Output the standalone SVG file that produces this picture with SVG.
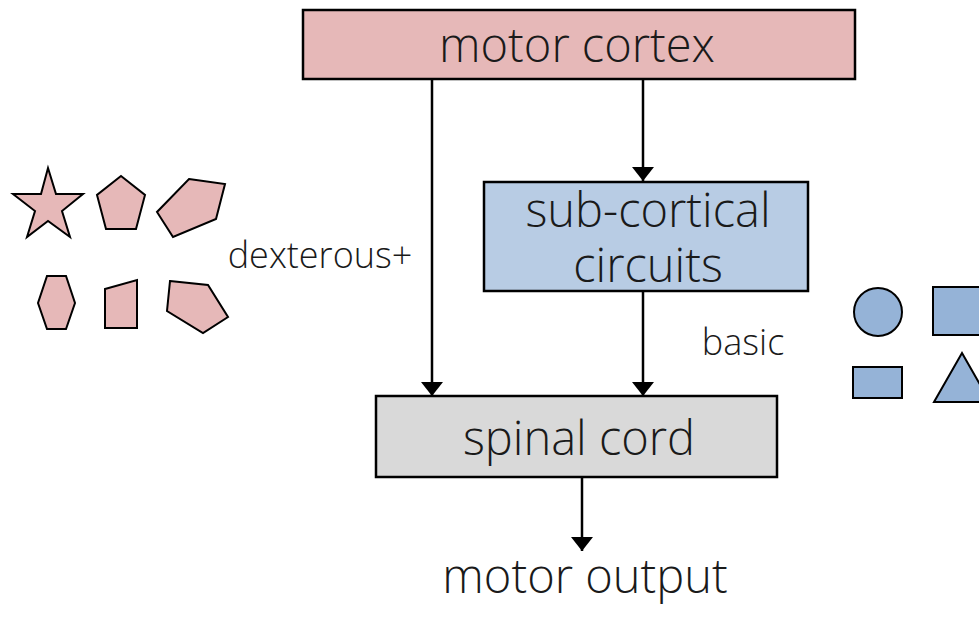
<svg xmlns="http://www.w3.org/2000/svg" width="979" height="617" viewBox="0 0 979 617">
<defs>
<style>
.box{stroke:#000;stroke-width:2.5}
.t{font-family:"Open Sans","Noto Sans","DejaVu Sans",sans-serif;font-weight:300;fill:#1a1a1a;text-anchor:middle}
.big{font-size:47px}
.small{font-size:36px}
.red{fill:#e6b8b8;stroke:#000;stroke-width:2;stroke-linejoin:miter}
.blue{fill:#95b3d7;stroke:#000;stroke-width:2}
.ln{stroke:#000;stroke-width:2.5;fill:none}
</style>
<marker id="ah" viewBox="0 0 14 22" refX="14" refY="11" markerWidth="14" markerHeight="22" markerUnits="userSpaceOnUse" orient="auto">
<path d="M0,0 L14,11 L0,22 z" fill="#000"/>
</marker>
</defs>
<rect width="979" height="617" fill="#fff"/>
<g id="connectors">
<line class="ln" x1="432" y1="80" x2="432" y2="396" marker-end="url(#ah)"/>
<line class="ln" x1="643" y1="80" x2="643" y2="181" marker-end="url(#ah)"/>
<line class="ln" x1="643" y1="292" x2="643" y2="396" marker-end="url(#ah)"/>
<line class="ln" x1="582" y1="478" x2="582" y2="551" marker-end="url(#ah)"/>
<text class="t small" x="320" y="268">dexterous+</text>
<text class="t small" x="743" y="355">basic</text>
</g>
<g id="motor-cortex">
<rect class="box" x="303" y="10" width="552" height="69" fill="#e6b8b8"/>
<text class="t big" x="577" y="62">motor cortex</text>
</g>
<g id="sub-cortical">
<rect class="box" x="484" y="182" width="324" height="109" fill="#b8cce4"/>
<text class="t big" x="648" y="227">sub-cortical</text>
<text class="t big" x="648" y="282">circuits</text>
</g>
<g id="spinal-cord">
<rect class="box" x="376" y="396" width="401" height="81" fill="#d9d9d9"/>
<text class="t big" x="579" y="455">spinal cord</text>
</g>
<g id="motor-output">
<text class="t big" x="585" y="593">motor output</text>
</g>
<g id="dexterous-shapes">
<polygon class="red" points="48,168 56,194 83,194 62,211 70,237 48,221 27,237 35,211 13,194 41,194"/>
<polygon class="red" points="121,176 145,195 136,229 106,229 97,195"/>
<polygon class="red" points="189,179 225,184 216,219 173,237 157,212"/>
<polygon class="red" points="47,276 66,276 75,303 66,329 47,329 38,303"/>
<polygon class="red" points="105,289 137,280 137,328 105,328"/>
<polygon class="red" points="170,281 208,285 228,317 203,333 167,311"/>
</g>
<g id="basic-shapes">
<circle class="blue" cx="878" cy="312" r="24"/>
<rect class="blue" x="933" y="287" width="60" height="48"/>
<rect class="blue" x="853" y="367" width="49" height="31"/>
<polygon class="blue" points="962,353 990,402 934,402"/>
</g>
</svg>
